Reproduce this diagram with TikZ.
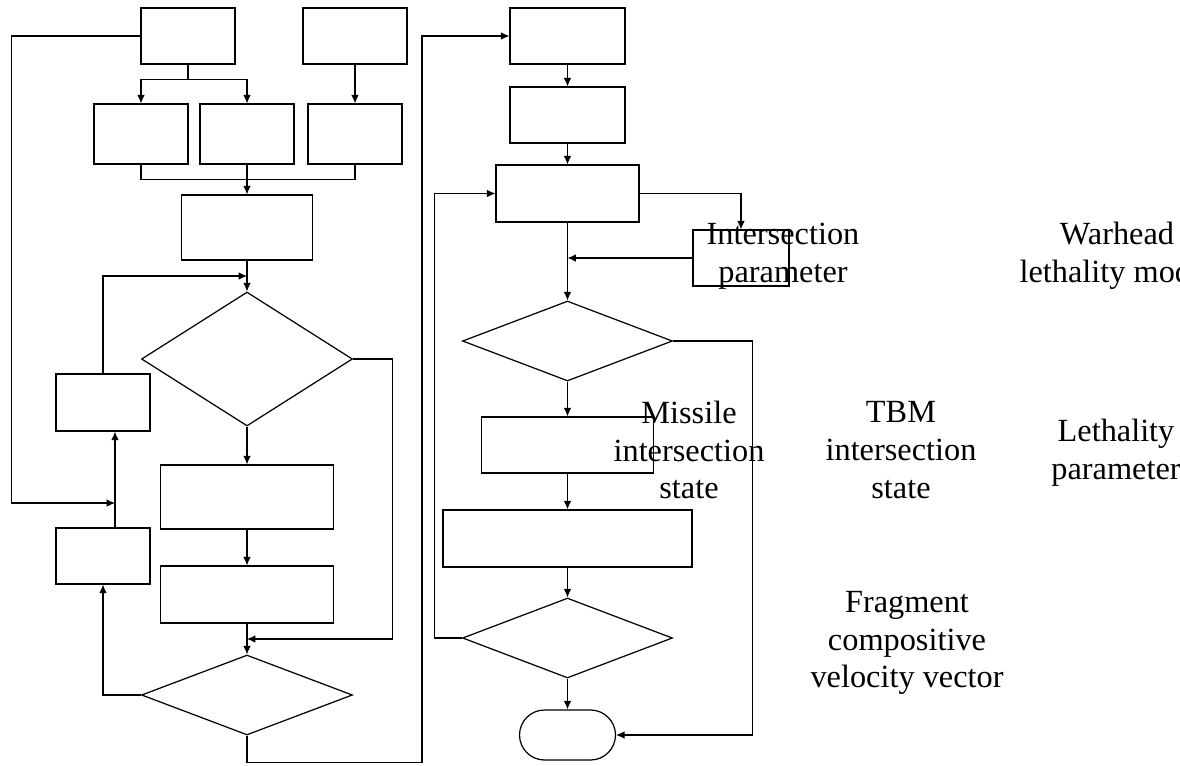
\documentclass[tikz,border=0pt]{standalone}
\usepackage{tikz}
\usepackage{fontspec}
\setmainfont{Liberation Serif}
\usetikzlibrary{shapes.geometric,shapes.misc,arrows.meta,calc}
\tikzstyle{block}=[draw,rectangle,inner sep=0pt,line width=0.7pt]
\tikzstyle{decision}=[draw,diamond,inner sep=0pt,line width=0.7pt]
\tikzstyle{terminal}=[draw,rounded rectangle,inner sep=0pt,line width=0.7pt]
\tikzstyle{remark}=[inner sep=0pt,align=center,font=\fontsize{18.4}{21.5}\selectfont]

\begin{document}
\begin{tikzpicture}[x=0.02cm,y=-0.02cm,line width=0.6pt,>={Latex[length=4.8pt,width=4.3pt]}]%
	\useasboundingbox (0,0) rectangle (1180,765);

	\begin{scope}
		\draw  (188,36)    node (Box_A)  [block, minimum width=1.88cm, minimum height=1.12cm]  {};
		\draw  (355,36)    node (Box_B)  [block, minimum width=2.08cm, minimum height=1.12cm]  {};
		\draw  (141,134)   node (Box_C1) [block, minimum width=1.88cm, minimum height=1.2cm]  {};
		\draw  (247,134)   node (Box_C2) [block, minimum width=1.88cm, minimum height=1.2cm]  {};
		\draw  (355,134)   node (Box_C3) [block, minimum width=1.88cm, minimum height=1.2cm]  {};
		\draw  (247,227.5) node (Box_D)  [block, minimum width=2.62cm, minimum height=1.3cm]  {};
		\draw  (247,359)   node (Dec_E)  [decision, minimum width=4.22cm, minimum height=2.68cm]  {};
		\draw  (103,402.5) node (Box_F1) [block, minimum width=1.88cm, minimum height=1.14cm]  {};
		\draw  (103,556)   node (Box_F2) [block, minimum width=1.88cm, minimum height=1.12cm]  {};
		\draw  (247,497)   node (Box_G1) [block, minimum width=3.46cm, minimum height=1.28cm]  {};
		\draw  (247,594.5) node (Box_G2) [block, minimum width=3.46cm, minimum height=1.14cm]  {};
		\draw  (247,695)   node (Dec_H)  [decision, minimum width=4.22cm, minimum height=1.6cm]  {};
		\coordinate (Join_F) at (115,503);

		\draw [->] (Box_A.south) -- ++(0,15) -| (Box_C1.north);
		\draw [->] (Box_A.south) -- ++(0,15) -| (Box_C2.north);
		\draw [->] (Box_B.south) -- (Box_C3.north);
		\draw      (Box_C1.south) -- ++(0,15) -| (Box_C3.south);
		\draw [->] (Box_C2.south) -- (Box_D.north);
		\draw [->] (Box_D.south) -- (Dec_E.north);
		\draw [->] (Box_F1.north) |- ($(Box_D.south)!0.5!(Dec_E.north)$);
		\draw [->] (Dec_E.east) -- ++(39,0) |- ($(Box_G2.south)!0.5!(Dec_H.north)$);
		\draw [->] (Dec_E.south) -- (Box_G1.north);
		\draw [->] (Box_G1.south) -- (Box_G2.north);
		\draw [->] (Box_G2.south) -- (Dec_H.north);
		\draw [->] (Dec_H.west) -| (Box_F2.south);
		\draw [->] ($(Box_F2.north)+(12,0)$) -- ($(Box_F1.south)+(12,0)$);
		\draw [->] (Box_A.west) -- ++(-129,0) |- (Join_F);
	\end{scope}

	\begin{scope}
		\draw  (567.5,36)   node (Box_I) [block, minimum width=2.3cm, minimum height=1.12cm]  {};
		\draw  (567.5,115)  node (Box_J) [block, minimum width=2.3cm, minimum height=1.12cm]  {};
		\draw  (567.5,193.5) node (Box_K) [block, minimum width=2.86cm, minimum height=1.14cm]  {};
		\draw  (741,258)    node (Box_M) [block, minimum width=1.92cm, minimum height=1.12cm]  {};
		\draw  (567.5,341)  node (Dec_L) [decision, minimum width=4.2cm, minimum height=1.6cm]  {};
		\draw  (567.5,445)  node (Box_O) [block, minimum width=3.44cm, minimum height=1.12cm]  {};
		\draw  (567.5,538.5) node (Box_P) [block, minimum width=4.98cm, minimum height=1.14cm]  {};
		\draw  (567.5,638)  node (Dec_Q) [decision, minimum width=4.2cm, minimum height=1.6cm]  {};
		\draw  (567.5,735)  node (End_N) [terminal, minimum width=1.92cm, minimum height=1cm]  {};

		\draw [->] (Dec_H.south) -- ++(0,27) -- ++(175,0) |- (Box_I.west);
		\draw [->] (Box_I.south) -- (Box_J.north);
		\draw [->] (Box_J.south) -- (Box_K.north);
		\draw [->] (Box_K.east) -| (Box_M.north);
		\draw [->] (Box_M.west) -- (Box_M.west -| Box_K.south);
		\draw [->] (Box_K.south) -- (Dec_L.north);
		\draw [->] (Dec_L.east) -- ++(79,0) |- (End_N.east);
		\draw [->] (Dec_L.south) -- (Box_O.north);
		\draw [->] (Box_O.south) -- (Box_P.north);
		\draw [->] (Box_P.south) -- (Dec_Q.north);
		\draw [->] (Dec_Q.south) -- (End_N.north);
		\draw [->] (Dec_Q.west) -- ++(-27,0) |- (Box_K.west);
	\end{scope}

	\draw  (783,256)  node (Txt_Param)   [remark] {Intersection\\parameter};
	\draw  (1117,256) node (Txt_Warhead) [remark] {Warhead\\lethality model};
	\draw  (689,450)  node (Txt_Missile) [remark] {Missile\\intersection\\state};
	\draw  (901,450)  node (Txt_TBM)     [remark] {TBM\\intersection\\state};
	\draw  (1116,453) node (Txt_Lethal)  [remark] {Lethality\\parameter};
	\draw  (907,643)  node (Txt_Frag)    [remark] {Fragment\\compositive\\velocity vector};

\end{tikzpicture}
\end{document}
